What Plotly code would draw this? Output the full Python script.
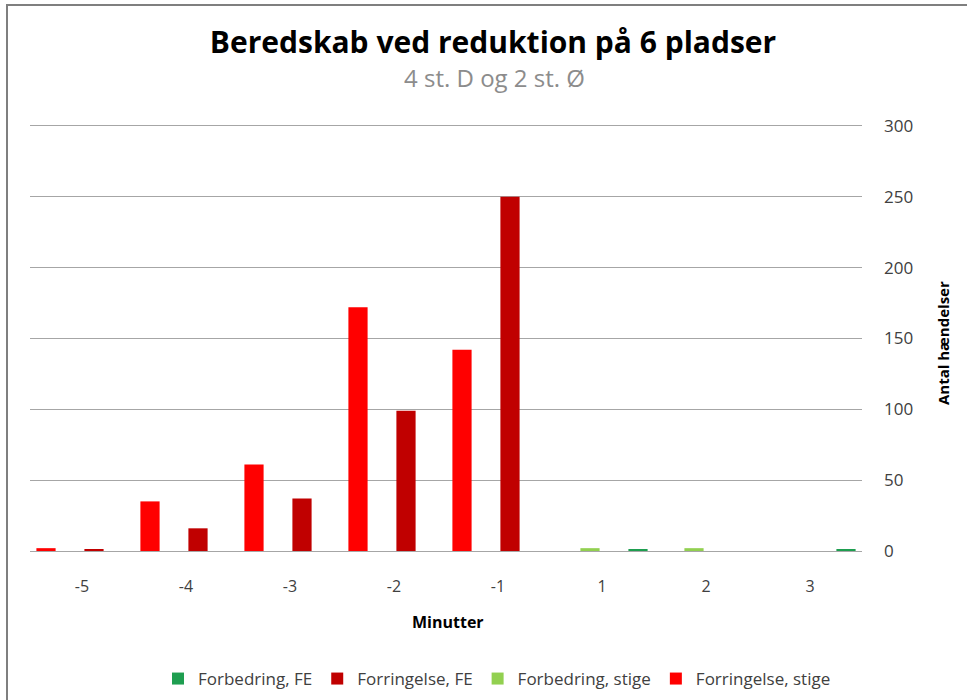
import plotly.graph_objects as go

categories = ["-5", "-4", "-3", "-2", "-1", "1", "2", "3"]
forbedring_fe = [0, 0, 0, 0, 0, 1, 0, 1]
forringelse_fe = [1, 16, 37, 99, 250, 0, 0, 0]
forbedring_stige = [0, 0, 0, 0, 0, 2, 2, 0]
forringelse_stige = [2, 35, 61, 172, 142, 0, 0, 0]

y_ticks = [0, 50, 100, 150, 200, 250, 300]

FONT = "Open Sans"
TXT = "#404040"

fig = go.Figure()
# drawing order within a group (left to right) is reversed relative to legend order
series = [
    ("Forringelse, stige", forringelse_stige, "#FF0000", 4),
    ("Forbedring, stige", forbedring_stige, "#92D050", 3),
    ("Forringelse, FE", forringelse_fe, "#C00000", 2),
    ("Forbedring, FE", forbedring_fe, "#1E9E50", 1),
]
for name, vals, color, rank in series:
    fig.add_trace(go.Bar(
        x=categories, y=vals, name=name, marker_color=color,
        marker_line_width=0, legendrank=rank,
    ))

# body margin is removed by the post script, so figure pixels == window pixels
W, H = 967, 700
L, R, T, B = 30, 105, 123, 149
pw = W - L - R
ph = H - T - B


def sx(x):
    return (x - L) / pw


def sy(y):
    return (H - B - y) / ph


fig.update_layout(
    width=W, height=H,
    margin=dict(l=L, r=R, t=T, b=B, autoexpand=False),
    paper_bgcolor="white", plot_bgcolor="white",
    barmode="group", bargap=0.077, bargroupgap=0.2,
    font=dict(family=FONT, color=TXT, size=16),
    title=dict(
        text="<b>Beredskab ved reduktion på 6 pladser</b>",
        x=sx(493), xanchor="center", xref="paper",
        y=1 - 42 / H, yanchor="middle", yref="container",
        font=dict(family=FONT, size=30, color="#000000"),
    ),
    showlegend=True,
    legend=dict(
        orientation="h", x=sx(497), xanchor="center",
        y=sy(679), yanchor="middle",
        font=dict(family=FONT, size=17, color=TXT),
        traceorder="normal", itemwidth=30,
    ),
    xaxis=dict(
        type="category", categoryorder="array", categoryarray=categories,
        showgrid=False, ticks="", showline=False, zeroline=False,
        tickfont=dict(family=FONT, size=16, color=TXT),
        ticklabelstandoff=24,
    ),
    yaxis=dict(
        side="right", range=[0, 302], tickvals=y_ticks,
        showgrid=True, gridcolor="#A6A6A6", gridwidth=1,
        zeroline=True, zerolinecolor="#A6A6A6", zerolinewidth=1,
        ticks="", showline=False,
        tickfont=dict(family=FONT, size=17, color=TXT),
        ticklabelstandoff=21,
    ),
    annotations=[
        dict(text="4 st. D og 2 st. Ø", x=sx(494), xref="paper", xanchor="center",
             y=sy(78), yref="paper", yanchor="middle", showarrow=False,
             font=dict(family=FONT, size=24, color="#8C8C8C")),
        dict(text="<b>Minutter</b>", x=sx(448), xref="paper", xanchor="center",
             y=sy(622), yref="paper", yanchor="middle", showarrow=False,
             font=dict(family=FONT, size=16, color="#000000")),
        dict(text="<b>Antal hændelser</b>", x=sx(943), xref="paper", xanchor="center",
             y=sy(343), yref="paper", yanchor="middle", showarrow=False,
             textangle=-90, font=dict(family=FONT, size=15, color="#000000")),
    ],
    shapes=[
        dict(type="line", xref="paper", yref="paper",
             x0=sx(6), x1=sx(990), y0=sy(5), y1=sy(5),
             line=dict(color="#7F7F7F", width=2)),
        dict(type="line", xref="paper", yref="paper",
             x0=sx(7), x1=sx(7), y0=sy(4), y1=sy(720),
             line=dict(color="#7F7F7F", width=2)),
    ],
)

fig.write_html(
    "out.html",
    config={"displayModeBar": False},
    post_script="document.body.style.margin='0';document.body.style.overflow='hidden';",
)
